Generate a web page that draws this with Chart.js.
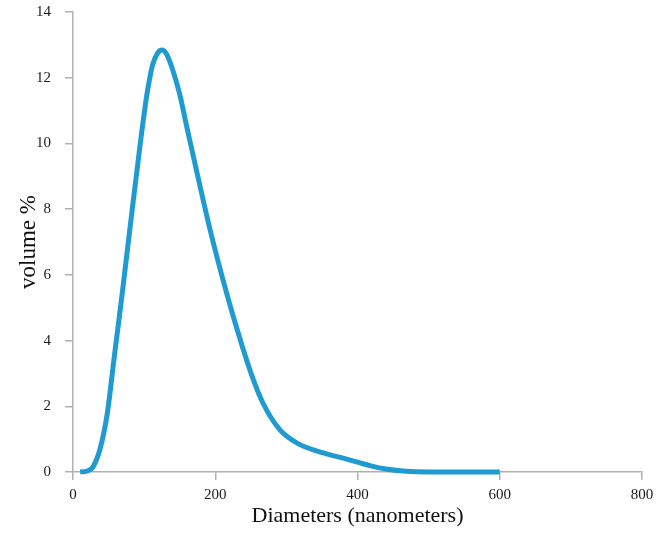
<!DOCTYPE html>
<html>
<head>
<meta charset="utf-8">
<script src="https://cdn.jsdelivr.net/npm/chart.js@4"></script>
<style>
  html, body { margin: 0; padding: 0; background: #fff; }
  #wrap { width: 659px; height: 533px; }
</style>
</head>
<body>
<div id="wrap"><canvas id="sizeChart" width="659" height="533"></canvas></div>
<script>
// particle size distribution
const diameters = [10, 20, 28, 38, 48, 58, 69, 80, 94, 104, 112, 119, 125, 132, 140, 150, 160, 176, 193, 211, 231, 252, 267, 291, 315, 352, 380, 400, 420, 440, 464, 500, 600];
const volumes   = [0, 0.03, 0.15, 0.7, 1.75, 3.5, 5.4, 7.4, 9.9, 11.5, 12.4, 12.75, 12.84, 12.7, 12.25, 11.5, 10.5, 8.95, 7.35, 5.84, 4.32, 2.9, 2.1, 1.28, 0.88, 0.58, 0.42, 0.3, 0.18, 0.09, 0.03, 0, 0];

const xTicks = [0, 200, 400, 600, 800];
const yTicks = [0, 2, 4, 6, 8, 10, 12, 14];

const axisGrey = '#b0b0b0';
const serif = "'Liberation Serif', 'Times New Roman', serif";

const points = diameters.map((d, i) => ({ x: d, y: volumes[i] }));

new Chart(document.getElementById('sizeChart'), {
    type: 'line',
    data: {
        datasets: [{
            data: points,
            borderColor: '#1f9bd1',
            borderWidth: 5,
            pointRadius: 0,
            cubicInterpolationMode: 'monotone',
            clip: false
        }]
    },
    options: {
        responsive: false,
        animation: false,
        layout: { padding: { left: 0, right: 17, top: 12, bottom: 0 } },
        plugins: { legend: { display: false }, tooltip: { enabled: false } },
        scales: {
            x: {
                type: 'linear',
                min: 0,
                max: 800,
                afterBuildTicks: s => { s.ticks = xTicks.map(v => ({ value: v })); },
                afterFit: s => { s.height = 61; s.paddingLeft = 0; s.paddingRight = 0; },
                grid: { drawOnChartArea: false, drawTicks: true, tickLength: 8, color: axisGrey, lineWidth: 1.5 },
                border: { color: axisGrey, width: 1.5 },
                ticks: { color: '#1a1a1a', padding: 6, maxRotation: 0, font: { family: serif, size: 15 } },
                title: {
                    display: true,
                    text: 'Diameters (nanometers)',
                    color: '#111',
                    padding: { top: 0, bottom: 4 },
                    font: { family: serif, size: 22 }
                }
            },
            y: {
                min: 0,
                max: 14,
                afterBuildTicks: s => { s.ticks = yTicks.map(v => ({ value: v })); },
                afterFit: s => { s.width = 73; s.paddingTop = 0; s.paddingBottom = 0; },
                grid: { drawOnChartArea: false, drawTicks: true, tickLength: 8, color: axisGrey, lineWidth: 1.5 },
                border: { color: axisGrey, width: 1.5 },
                ticks: { color: '#1a1a1a', padding: 14, font: { family: serif, size: 15 } },
                title: {
                    display: true,
                    text: 'volume %',
                    color: '#111',
                    padding: { top: 15, bottom: 0 },
                    font: { family: serif, size: 23 }
                }
            }
        }
    }
});
</script>
</body>
</html>
